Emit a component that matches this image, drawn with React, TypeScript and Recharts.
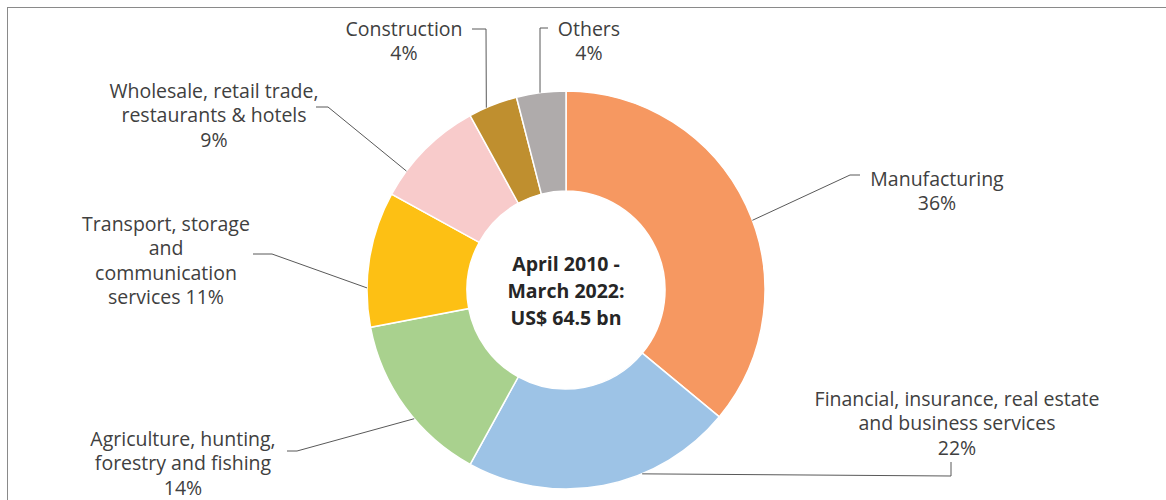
import { Pie, PieChart, Cell } from 'recharts'

// FDI equity inflows by sector, April 2010 - March 2022 (share of total, %)
const sectors = [
  'Manufacturing',
  'Financial, insurance, real estate and business services',
  'Agriculture, hunting, forestry and fishing',
  'Transport, storage and communication services',
  'Wholesale, retail trade, restaurants & hotels',
  'Construction',
  'Others',
]
const shares = [36, 22, 14, 11, 9, 4, 4]
const colors = ['#F69861', '#9DC3E6', '#A9D18E', '#FDC014', '#F8CBCB', '#BF8F2F', '#AFABAB']
const labelLines = [
  ['Manufacturing'],
  ['Financial, insurance, real estate', 'and business services'],
  ['Agriculture, hunting,', 'forestry and fishing'],
  ['Transport, storage', 'and', 'communication', 'services'],
  ['Wholesale, retail trade,', 'restaurants & hotels'],
  ['Construction'],
  ['Others'],
]
const centerLines = ['April 2010 -', 'March 2022:', 'US$ 64.5 bn']

const data = sectors.map((name, i) => ({ name, value: shares[i] }))

// leader line + label placement, offsets from the pie centre
const labelLayout = [
  { angle: 20.5, elbow: [284, -115], end: [294, -115], tx: 371, ty: -112, inline: false },
  { angle: -67.5, elbow: [385, 186], end: [385, 172], tx: 391, ty: 108, inline: false },
  { angle: -139.7, elbow: [-269, 161], end: [-279, 161], tx: -383, ty: 148, inline: false },
  { angle: 179.4, elbow: [-294, -36], end: [-313, -36], tx: -400, ty: -67, inline: true },
  { angle: 143.3, elbow: [-238, -183], end: [-250, -183], tx: -352, ty: -200, inline: false },
  { angle: 113.6, elbow: [-80, -261], end: [-94, -261], tx: -162, ty: -262, inline: false },
  { angle: 97.5, elbow: [-26, -262], end: [-18, -262], tx: 23, ty: -262, inline: false },
]

const CX = 566
const CY = 290
const LINE_H = 24.5
const FONT = "'Open Sans', 'Noto Sans', sans-serif"

function SectorLabel(props: any) {
  const { cx, cy, outerRadius, index, value } = props
  const l = labelLayout[index]
  const rad = (l.angle * Math.PI) / 180
  const sx = cx + outerRadius * Math.cos(rad)
  const sy = cy - outerRadius * Math.sin(rad)
  const lines = [...labelLines[index]]
  if (l.inline) lines[lines.length - 1] = `${lines[lines.length - 1]} ${value}%`
  else lines.push(`${value}%`)

  return (
    <g>
      <polyline
        points={`${sx},${sy} ${cx + l.elbow[0]},${cy + l.elbow[1]} ${cx + l.end[0]},${cy + l.end[1]}`}
        fill="none"
        stroke="#595959"
        strokeWidth={1}
      />
      {lines.map((t, i) => (
        <text
          key={i}
          x={cx + l.tx}
          y={cy + l.ty + i * LINE_H}
          textAnchor="middle"
          dominantBaseline="central"
          fontSize={19.5}
          fontFamily={FONT}
          fill="#404040"
        >
          {t}
        </text>
      ))}
    </g>
  )
}

export default function App() {
  return (
    <div style={{ position: 'absolute', left: 0, top: 0, width: 1166, height: 500, background: '#fff', overflow: 'hidden' }}>
      <div
        style={{
          position: 'absolute',
          left: 7,
          top: 7,
          width: 1170,
          height: 510,
          borderTop: '1.5px solid #8a8a8a',
          borderLeft: '1.5px solid #8a8a8a',
        }}
      />
      <div style={{ position: 'absolute', left: 0, top: 0 }}>
        <PieChart width={1166} height={500} margin={{ top: 0, right: 0, bottom: 0, left: 0 }}>
          <Pie
            data={data}
            dataKey="value"
            nameKey="name"
            cx={CX}
            cy={CY}
            innerRadius={99}
            outerRadius={199}
            startAngle={90}
            endAngle={-270}
            stroke="#ffffff"
            strokeWidth={1.5}
            label={SectorLabel}
            labelLine={false}
            isAnimationActive={false}
          >
            {data.map((d, i) => (
              <Cell key={d.name} fill={colors[i]} />
            ))}
          </Pie>
          {centerLines.map((t, i) => (
            <text
              key={t}
              x={CX}
              y={CY - 27 + i * 27}
              textAnchor="middle"
              dominantBaseline="central"
              fontSize={19.5}
              fontWeight={700}
              fontFamily={FONT}
              fill="#262626"
            >
              {t}
            </text>
          ))}
        </PieChart>
      </div>
    </div>
  )
}
